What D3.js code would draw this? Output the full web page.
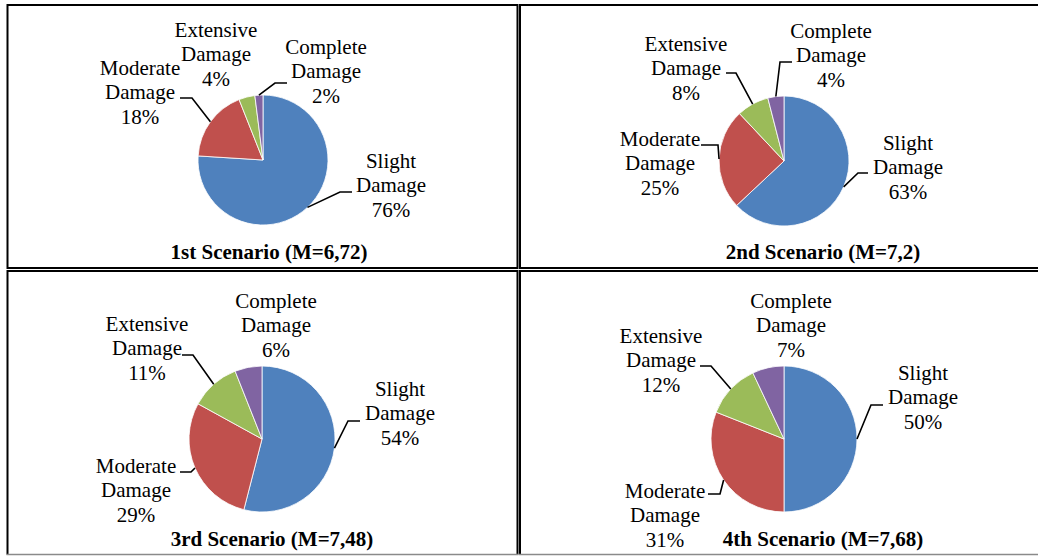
<!DOCTYPE html>
<html>
<head>
<meta charset="utf-8">
<script src="https://cdn.jsdelivr.net/npm/d3@7"></script>
<style>
  html, body { margin: 0; padding: 0; background: #fff; }
  svg { display: block; }
</style>
</head>
<body>
<svg id="chart" width="1038" height="556"></svg>
<script>
// Damage-state distributions for four earthquake scenarios
const categories = ["Slight Damage", "Moderate Damage", "Extensive Damage", "Complete Damage"];
const scenarioTitles = ["1st Scenario (M=6,72)", "2nd Scenario (M=7,2)", "3rd Scenario (M=7,48)", "4th Scenario (M=7,68)"];
const slightValues    = [76, 63, 54, 50];
const moderateValues  = [18, 25, 29, 31];
const extensiveValues = [4, 8, 11, 12];
const completeValues  = [2, 4, 6, 7];
const sliceColors = ["#4F81BD", "#C0504D", "#9BBB59", "#8064A2"];

const FONT = '"Liberation Serif"';

// Panel geometry: frame, pie centre/radius, title anchor, label anchors and leader elbows
const panels = [
  { frame: [7.5, 5, 517.5, 268, true], cx: 263, cy: 160, r: 65, title: [269, 259],
    labels: [
      { x: 391, y: 168, leader: [340, 192, 352, 192] },
      { x: 140, y: 75,  leader: [192, 98, 180, 98] },
      { x: 216, y: 37,  leader: null },
      { x: 326, y: 54,  leader: [275, 83, 287, 83] }
    ] },
  { frame: [520, 5, 1040, 268, true], cx: 784, cy: 161, r: 65, title: [823, 259],
    labels: [
      { x: 908, y: 150, leader: [858, 173, 868, 173] },
      { x: 660, y: 146, leader: [718, 145, 701, 145] },
      { x: 686, y: 51,  leader: [736, 73, 726, 73] },
      { x: 831, y: 38,  leader: [780, 62, 792, 62] }
    ] },
  { frame: [7.5, 271, 517.5, 554.5, false], cx: 262, cy: 439, r: 73, title: [272, 546],
    labels: [
      { x: 400, y: 396, leader: [348, 421, 360, 421] },
      { x: 136, y: 473, leader: [191, 472, 180, 472] },
      { x: 147, y: 331, leader: [193, 355, 182, 355] },
      { x: 276, y: 308, leader: null }
    ] },
  { frame: [520, 271, 1040, 554.5, false], cx: 784, cy: 439, r: 73, title: [823, 546],
    labels: [
      { x: 923, y: 380, leader: [871, 405, 883, 405] },
      { x: 665, y: 498, leader: [720, 494, 708, 494] },
      { x: 661, y: 343, leader: [711, 366, 700, 366] },
      { x: 791, y: 308, leader: null }
    ] }
];

const svg = d3.select("#chart");
const color = d3.scaleOrdinal().domain(categories).range(sliceColors);
const pie = d3.pie().sort(null).value(d => d.value);
const lineHeight = 24.3;

panels.forEach((p, i) => {
  const data = categories.map((c, k) => ({
    name: c,
    value: [slightValues, moderateValues, extensiveValues, completeValues][k][i]
  }));

  // panel frame
  const [x0, y0, x1, y1, closedBottom] = p.frame;
  const g = svg.append("g");
  g.append("path")
    .attr("d", closedBottom
      ? `M${x0},${y1}L${x0},${y0}L${x1},${y0}L${x1},${y1}Z`
      : `M${x0},${y1}L${x0},${y0}L${x1},${y0}L${x1},${y1}`)
    .attr("fill", "none").attr("stroke", "#000").attr("stroke-width", 2);
  if (!closedBottom) {
    g.append("line").attr("x1", x0 - 1).attr("x2", x1 + 1).attr("y1", y1).attr("y2", y1)
      .attr("stroke", "#8a8a8a").attr("stroke-width", 1.5);
  }

  const arcs = pie(data);
  const arc = d3.arc().innerRadius(0).outerRadius(p.r);

  const pg = g.append("g").attr("transform", `translate(${p.cx},${p.cy})`);
  pg.selectAll("path.slice").data(arcs).join("path")
    .attr("class", "slice")
    .attr("d", arc)
    .attr("fill", d => color(d.data.name))
    .attr("stroke", "#fff").attr("stroke-width", 0.8);

  // labels with leader lines
  arcs.forEach((a, k) => {
    const lab = p.labels[k];
    const words = a.data.name.split(" ");
    const lines = [words[0], words[1], a.data.value + "%"];
    const t = g.append("text")
      .attr("text-anchor", "middle")
      .style("font-family", FONT)
      .attr("font-size", 21)
      .attr("fill", "#000");
    lines.forEach((s, j) => {
      t.append("tspan").attr("x", lab.x).attr("y", lab.y + j * lineHeight).text(s);
    });
    if (lab.leader) {
      const mid = (a.startAngle + a.endAngle) / 2;
      const ex = p.cx + p.r * Math.sin(mid);
      const ey = p.cy - p.r * Math.cos(mid);
      const [bx, by, lx, ly] = lab.leader;
      g.append("path")
        .attr("d", d3.line()([[ex, ey], [bx, by], [lx, ly]]))
        .attr("fill", "none").attr("stroke", "#000").attr("stroke-width", 1.6);
    }
  });

  g.append("text")
    .attr("x", p.title[0]).attr("y", p.title[1])
    .attr("text-anchor", "middle")
    .style("font-family", FONT)
    .attr("font-size", 21).attr("font-weight", "bold")
    .attr("fill", "#000")
    .text(scenarioTitles[i]);
});
</script>
</body>
</html>
